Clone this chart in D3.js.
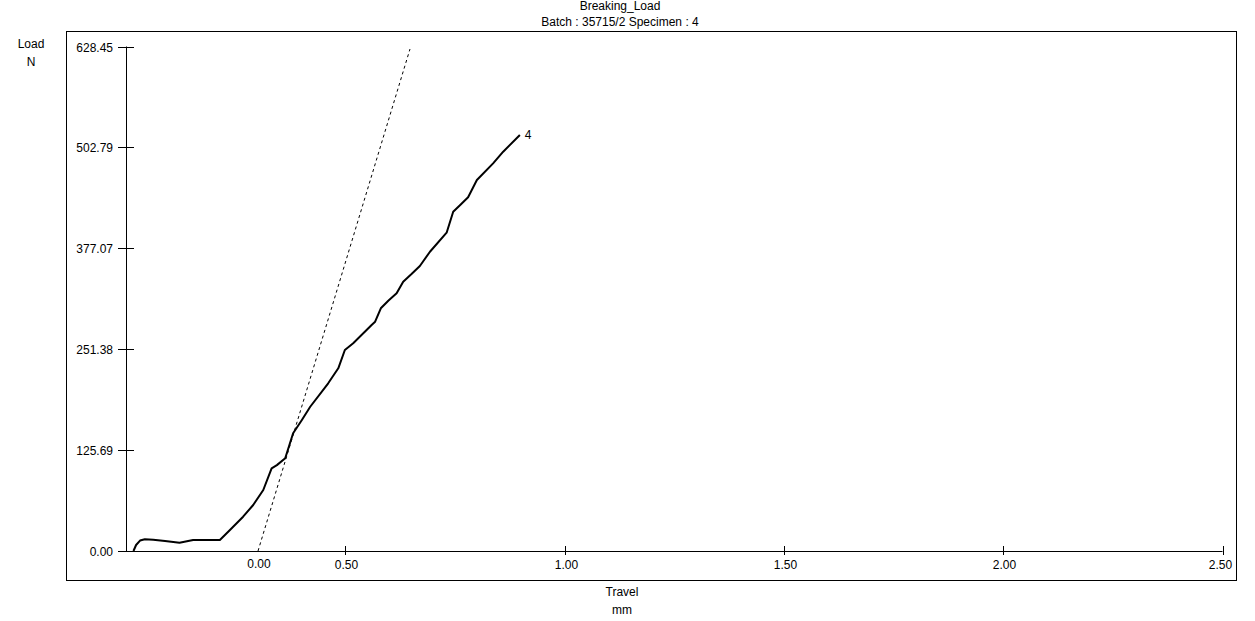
<!DOCTYPE html>
<html><head><meta charset="utf-8">
<script src="https://cdn.jsdelivr.net/npm/d3@7"></script>
<style>
body{margin:0;background:#fff;}
svg{display:block;font-family:"Liberation Sans",Arial,sans-serif;}
</style></head>
<body>
<svg id="c" width="1255" height="621"></svg>
<script>
// Data
const travel = [0.017,0.023,0.032,0.043,0.062,0.089,0.122,0.153,0.214,0.237,0.267,0.290,0.313,0.332,0.344,0.363,0.381,0.401,0.420,0.461,0.484,0.499,0.518,0.560,0.568,0.581,0.598,0.617,0.632,0.651,0.670,0.693,0.731,0.746,0.762,0.780,0.800,0.837,0.860,0.898];
const load   = [0,7.5,13,14.6,14.1,12.5,10.3,13.7,13.7,26.2,42.7,57.3,76,103,107,115.5,146.6,163.2,179.7,208.9,227.6,250.4,258.7,281.5,285.6,302.3,311.8,321,335.5,345,355,372.8,396.5,422.6,431,440.6,462.1,482.9,497.4,518.2];
const tangentX = [0.301, 0.6475];
const tangentY = [0, 625.3];
const yTicks = [0, 125.69, 251.38, 377.07, 502.79, 628.45];
const xTicks = [0.5, 1.0, 1.5, 2.0, 2.5];
const xZeroOffset = 0.301;
const titleLines = ["Breaking_Load", "Batch : 35715/2 Specimen : 4"];
const curveLabel = "4";

const svg = d3.select("#c");
const x = d3.scaleLinear().domain([0, 2.5]).range([126, 1222.5]);
const y = d3.scaleLinear().domain([0, 628.45]).range([551, 46.5]);

// frame
svg.append("rect").attr("x",66.5).attr("y",31.5).attr("width",1170).attr("height",549)
  .attr("fill","none").attr("stroke","#000").attr("stroke-width",1);

// titles
svg.append("text").attr("x",620).attr("y",10).attr("text-anchor","middle").attr("font-size",12).text(titleLines[0]);
svg.append("text").attr("x",620).attr("y",26).attr("text-anchor","middle").attr("font-size",12).text(titleLines[1]);

// y axis
const ya = svg.append("g");
ya.append("line").attr("x1",126.5).attr("x2",126.5).attr("y1",y(628.45)).attr("y2",551).attr("stroke","#000");
yTicks.forEach(t=>{
  const yy = Math.round(y(t))+0.5;
  ya.append("line").attr("x1",118).attr("x2",134).attr("y1",yy).attr("y2",yy).attr("stroke","#000");
  ya.append("text").attr("x",113).attr("y",yy).attr("dy","0.35em").attr("text-anchor","end").attr("font-size",12).text(d3.format(".2f")(t));
});

// x axis
const xa = svg.append("g");
xa.append("line").attr("x1",118).attr("x2",x(2.5)).attr("y1",551.5).attr("y2",551.5).attr("stroke","#000");
xTicks.forEach((t,i)=>{
  const xx = Math.round(x(t))+0.5;
  xa.append("line").attr("x1",xx).attr("x2",xx).attr("y1",546).attr("y2",555).attr("stroke","#000");
  const lx = i === xTicks.length-1 ? xx-3 : xx+1;
  xa.append("text").attr("x",lx).attr("y",569).attr("text-anchor","middle").attr("font-size",12).text(d3.format(".2f")(t));
});
xa.append("text").attr("x",x(xZeroOffset)+1).attr("y",568).attr("text-anchor","middle").attr("font-size",12).text("0.00");

// axis titles
svg.append("text").attr("x",31).attr("y",48).attr("text-anchor","middle").attr("font-size",12).text("Load");
svg.append("text").attr("x",31).attr("y",66).attr("text-anchor","middle").attr("font-size",12).text("N");
svg.append("text").attr("x",622).attr("y",596).attr("text-anchor","middle").attr("font-size",12).text("Travel");
svg.append("text").attr("x",622).attr("y",614).attr("text-anchor","middle").attr("font-size",12).text("mm");

// tangent (dashed)
svg.append("line").attr("x1",x(tangentX[0])).attr("y1",y(tangentY[0])).attr("x2",x(tangentX[1])).attr("y2",y(tangentY[1]))
  .attr("stroke","#000").attr("stroke-width",1).attr("stroke-dasharray","3,3");

// curve
const pts = travel.map((v,i)=>[v, load[i]]);
svg.append("path").datum(pts).attr("fill","none").attr("stroke","#000").attr("stroke-width",2)
  .attr("stroke-linejoin","round")
  .attr("d", d3.line().x(d=>x(d[0])).y(d=>y(d[1])));
const last = pts[pts.length-1];
svg.append("text").attr("x",x(last[0])+5).attr("y",y(last[1])+4).attr("font-size",12).text(curveLabel);
</script>
</body></html>
